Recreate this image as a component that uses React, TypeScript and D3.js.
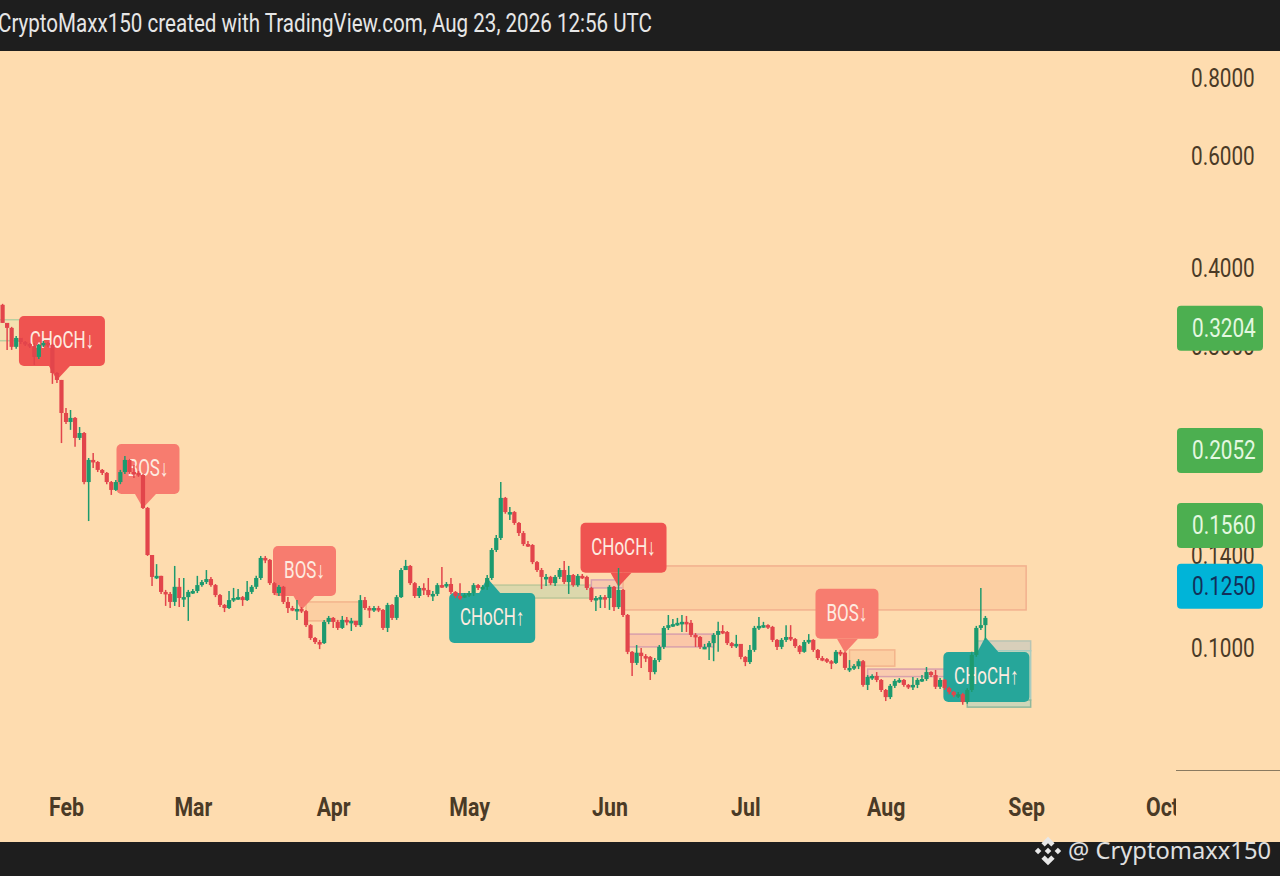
import * as d3 from "d3";
import React from "react";

const width = 1280;
const height = 876;

const firstOpen = 0.3497;
// daily closes from Jan 18
const closes = [
  0.3274, 0.3215, 0.3, 0.3099, 0.3054, 0.3032, 0.301, 0.2892, 0.3021, 0.3043, 0.3021, 0.2727, 0.2659, 0.2357, 0.2281,
  0.2315, 0.2152, 0.2191, 0.1832, 0.1986, 0.1971, 0.1915, 0.1894, 0.1832, 0.178, 0.1832, 0.19, 0.1986, 0.19, 0.1894,
  0.188, 0.1667, 0.1404, 0.1296, 0.1301, 0.1227, 0.1218, 0.1183, 0.125, 0.12, 0.1204, 0.1227, 0.1231, 0.1258, 0.1272,
  0.1286, 0.1258, 0.1213, 0.117, 0.1157, 0.1191, 0.12, 0.1204, 0.1191, 0.1227, 0.125, 0.1291, 0.1389, 0.1379, 0.1267,
  0.1222, 0.125, 0.1183, 0.1157, 0.1153, 0.1153, 0.1144, 0.1087, 0.1037, 0.1022, 0.1018, 0.11, 0.1116, 0.11, 0.1076,
  0.1108, 0.1104, 0.1104, 0.1087, 0.1191, 0.1157, 0.1153, 0.1157, 0.1149, 0.1076, 0.117, 0.1116, 0.1204, 0.1329, 0.1349,
  0.1267, 0.1209, 0.1245, 0.1236, 0.1213, 0.1218, 0.1258, 0.1254, 0.1263, 0.1227, 0.1209, 0.1204, 0.1213, 0.1222, 0.1258,
  0.1245, 0.125, 0.1291, 0.143, 0.1494, 0.1729, 0.1642, 0.1642, 0.1578, 0.1521, 0.1461, 0.1456, 0.1368, 0.1329, 0.1296,
  0.1296, 0.1267, 0.1296, 0.1329, 0.1272, 0.1305, 0.1258, 0.1301, 0.1296, 0.1245, 0.1191, 0.12, 0.1204, 0.12, 0.125,
  0.1161, 0.1236, 0.1128, 0.0986, 0.0947, 0.0983, 0.0971, 0.0968, 0.0916, 0.0957, 0.1004, 0.1076, 0.1087, 0.1091, 0.1096,
  0.11, 0.1096, 0.1049, 0.1041, 0.1004, 0.1004, 0.1018, 0.1049, 0.1064, 0.106, 0.1018, 0.1007, 0.1015, 0.0968, 0.095,
  0.0993, 0.1076, 0.1084, 0.1087, 0.108, 0.103, 0.1004, 0.103, 0.1041, 0.1033, 0.1007, 0.0986, 0.1022, 0.103, 0.0993,
  0.0964, 0.096, 0.0953, 0.0947, 0.0986, 0.0983, 0.093, 0.093, 0.0936, 0.0953, 0.0874, 0.09, 0.0903, 0.089, 0.0858,
  0.0836, 0.0871, 0.0887, 0.089, 0.0874, 0.0868, 0.0874, 0.089, 0.0893, 0.0916, 0.0906, 0.0868, 0.089, 0.0864, 0.0852,
  0.0842, 0.0845, 0.0821, 0.0858, 0.0975, 0.1076, 0.1087, 0.1116,
];
const highs = [
  0.351, 0.3262, 0.3227, 0.3122, 0.3099, 0.3065, 0.3043, 0.3043, 0.3032, 0.3065, 0.3054, 0.3032, 0.2737, 0.2659, 0.24,
  0.2383, 0.2323, 0.2239, 0.2199, 0.2, 0.2037, 0.1978, 0.1922, 0.19, 0.1839, 0.1846, 0.1915, 0.2015, 0.1993, 0.195,
  0.1908, 0.1887, 0.1673, 0.1404, 0.1358, 0.1301, 0.1236, 0.1227, 0.1349, 0.1291, 0.1291, 0.1236, 0.124, 0.1301, 0.1282,
  0.1329, 0.1296, 0.1263, 0.1218, 0.1174, 0.1231, 0.1245, 0.124, 0.1209, 0.1277, 0.1258, 0.1301, 0.1399, 0.1399, 0.1384,
  0.1272, 0.1258, 0.1254, 0.1204, 0.1166, 0.1191, 0.1161, 0.1149, 0.1091, 0.1041, 0.103, 0.1108, 0.1124, 0.112, 0.1108,
  0.1124, 0.112, 0.1116, 0.11, 0.1213, 0.1204, 0.1166, 0.1166, 0.1166, 0.1153, 0.1179, 0.1174, 0.1213, 0.1339, 0.1379,
  0.1354, 0.1272, 0.1254, 0.1267, 0.1291, 0.1231, 0.1267, 0.1344, 0.1272, 0.1291, 0.1231, 0.1267, 0.1222, 0.1231, 0.1267,
  0.1263, 0.1258, 0.1305, 0.144, 0.151, 0.1832, 0.1735, 0.1673, 0.1648, 0.1584, 0.1532, 0.1478, 0.1461, 0.1374, 0.1339,
  0.131, 0.1301, 0.1305, 0.1339, 0.1374, 0.1349, 0.131, 0.131, 0.131, 0.1301, 0.125, 0.1209, 0.1213, 0.1213, 0.1258,
  0.1254, 0.1339, 0.124, 0.1132, 0.0989, 0.1011, 0.1, 0.0978, 0.0971, 0.0964, 0.1011, 0.1084, 0.1128, 0.1112, 0.1116,
  0.1128, 0.1124, 0.1108, 0.1056, 0.1045, 0.1015, 0.1026, 0.1056, 0.11, 0.1087, 0.1064, 0.1022, 0.1049, 0.1015, 0.0971,
  0.1011, 0.1084, 0.112, 0.11, 0.1091, 0.1084, 0.1033, 0.1037, 0.1087, 0.1087, 0.1037, 0.1011, 0.103, 0.1052, 0.1033,
  0.0996, 0.0971, 0.0964, 0.0957, 0.0993, 0.0993, 0.0986, 0.0957, 0.0943, 0.096, 0.0957, 0.0906, 0.0909, 0.0916, 0.0893,
  0.0861, 0.0877, 0.0893, 0.0896, 0.0893, 0.0877, 0.09, 0.0896, 0.0906, 0.0933, 0.0919, 0.0923, 0.0896, 0.0893, 0.0868,
  0.0855, 0.0852, 0.0849, 0.0864, 0.0986, 0.1084, 0.1245, 0.1124,
];
const lows = [
  0.3274, 0.2967, 0.2967, 0.2978, 0.3032, 0.301, 0.2988, 0.2809, 0.2871, 0.2999, 0.2999, 0.2621, 0.263, 0.2112, 0.2264,
  0.2216, 0.2083, 0.2136, 0.1818, 0.1589, 0.1929, 0.19, 0.188, 0.1818, 0.1748, 0.1773, 0.1818, 0.1887, 0.1887, 0.186,
  0.1867, 0.1661, 0.1399, 0.1254, 0.1286, 0.1218, 0.1166, 0.1157, 0.1166, 0.1161, 0.1161, 0.1104, 0.1218, 0.1222, 0.125,
  0.1263, 0.125, 0.1204, 0.1161, 0.114, 0.1153, 0.1183, 0.1191, 0.1166, 0.1187, 0.1218, 0.124, 0.1282, 0.1363, 0.1258,
  0.1213, 0.1209, 0.1174, 0.1136, 0.1144, 0.1108, 0.1136, 0.108, 0.103, 0.1015, 0.0996, 0.1015, 0.1091, 0.1076, 0.1068,
  0.1072, 0.1087, 0.1064, 0.108, 0.108, 0.1149, 0.1116, 0.114, 0.114, 0.1068, 0.106, 0.1108, 0.1108, 0.12, 0.1329,
  0.1258, 0.12, 0.12, 0.1213, 0.1204, 0.1187, 0.1209, 0.1245, 0.1245, 0.1218, 0.12, 0.1191, 0.12, 0.1204, 0.1209,
  0.1236, 0.1236, 0.1236, 0.1282, 0.142, 0.1483, 0.1632, 0.1595, 0.1567, 0.1505, 0.1451, 0.1446, 0.1358, 0.1319, 0.124,
  0.1254, 0.1258, 0.1254, 0.1286, 0.1263, 0.1218, 0.125, 0.125, 0.1286, 0.1236, 0.1183, 0.1144, 0.1157, 0.1157, 0.1149,
  0.1144, 0.1153, 0.112, 0.0978, 0.0903, 0.094, 0.093, 0.095, 0.089, 0.0909, 0.095, 0.0996, 0.1068, 0.108, 0.1084,
  0.106, 0.106, 0.1041, 0.1004, 0.0996, 0.0996, 0.0957, 0.0953, 0.0986, 0.1052, 0.1011, 0.1, 0.1, 0.096, 0.0936,
  0.0943, 0.0986, 0.1068, 0.1076, 0.1072, 0.1022, 0.0993, 0.0996, 0.1022, 0.1026, 0.1, 0.0978, 0.0983, 0.1015, 0.0986,
  0.0957, 0.0953, 0.0947, 0.0926, 0.0943, 0.0971, 0.0923, 0.0916, 0.0923, 0.0926, 0.0868, 0.0858, 0.089, 0.0883, 0.0852,
  0.0824, 0.083, 0.0864, 0.088, 0.0868, 0.0861, 0.0858, 0.0864, 0.0883, 0.0887, 0.09, 0.0861, 0.0861, 0.0858, 0.0845,
  0.0836, 0.0833, 0.0813, 0.0816, 0.0852, 0.0968, 0.1068, 0.103,
];

const priceTicks = [0.8, 0.6, 0.4, 0.3, 0.14, 0.1];
const tagPrices = [0.3204, 0.2052, 0.156, 0.125];
const tagFills = ["#4caf50", "#4caf50", "#4caf50", "#00b4d8"];
const tagInk = ["#e4f8e0", "#e4f8e0", "#e4f8e0", "#12305a"];

// structure labels: date of the tail tip and its price
const labelTexts = ["CHoCH↓", "BOS↓", "BOS↓", "CHoCH↑", "CHoCH↓", "BOS↓", "CHoCH↑"];
const labelDates = ["2026-01-30", "2026-02-18", "2026-03-25", "2026-05-05", "2026-06-03", "2026-07-23", "2026-08-23"];
const labelPrices = [0.2659, 0.1667, 0.1149, 0.1291, 0.125, 0.0983, 0.1041];
const labelFills = ["#ef5350", "#f77c6f", "#f77c6f", "#26a69a", "#ef5350", "#f77c6f", "#26a69a"];
const labelNudges = [5, 5, 3, 5, 5, 2, 1];

// order blocks
const zoneStarts = ["2026-01-10", "2026-03-26", "2026-05-05", "2026-05-28", "2026-06-04", "2026-06-05", "2026-07-24", "2026-07-28", "2026-08-21", "2026-08-21", "2026-08-19"];
const zoneEnds = ["2026-01-22", "2026-04-07", "2026-05-28", "2026-06-12", "2026-09-01", "2026-06-24", "2026-08-03", "2026-08-18", "2026-09-02", "2026-09-02", "2026-09-02"];
const zoneTops = [0.3312, 0.1183, 0.1258, 0.1282, 0.1349, 0.1052, 0.0993, 0.0926, 0.1026, 0.099, 0.0827];
const zoneBottoms = [0.3068, 0.1104, 0.12, 0.1245, 0.1149, 0.1004, 0.0936, 0.0901, 0.099, 0.0827, 0.0806];
const zoneFills = ["#f5e0b0", "#fccfa2", "#dcd8ac", "#f8c9ad", "#fccfa2", "#fbc7a8", "#fccfa2", "#f9cbb0", "#d8cfba", "#cfd6b8", "#cfd6b8"];
const zoneStrokes = ["#b9cfa0", "#f3b48c", "#bcc79a", "#d6a0ae", "#f2b08e", "#d8a0ac", "#f3b48c", "#d8a0ac", "#b8c4b4", "#a8ccc0", "#8fb89c"];

const background = "#fedcaf";
const bandColor = "#1e1e1e";
const axisInk = "#4a3a26";
const upColor = "#1f9a6e";
const downColor = "#e2444c";

const utc = (s: string) => new Date(s + "T00:00:00Z");

const x = d3.scaleUtc().domain([utc("2026-02-01"), utc("2026-10-01")]).range([66, 1162]);
const y = d3.scaleLog().domain([0.1, 0.8]).range([648, 78]);

const candles = closes.map((close, i) => ({
  date: d3.utcDay.offset(utc("2026-01-18"), i),
  open: i === 0 ? firstOpen : closes[i - 1],
  close,
  high: highs[i],
  low: lows[i],
}));

function Label({ i }: { i: number }) {
  const tipX = x(utc(labelDates[i]));
  const tipY = y(labelPrices[i]);
  const up = labelTexts[i].endsWith("↑");
  const w = labelTexts[i].startsWith("BOS") ? 63 : 86;
  const cx = tipX + labelNudges[i];
  const baseY = up ? tipY + 15 : tipY - 14;
  const boxY = up ? baseY : baseY - 50;
  const tail = d3.line()([
    [tipX - 8, baseY],
    [tipX, tipY],
    [tipX + 13, baseY],
  ]);
  return (
    <g>
      <rect x={cx - w / 2} y={boxY} width={w} height={50} rx={5} fill={labelFills[i]} />
      <path d={tail + "Z"} fill={labelFills[i]} />
      <text
        transform={`translate(${cx},${boxY + 32}) scale(0.74,1)`}
        textAnchor="middle"
        fontFamily="Roboto"
        fontSize={23}
        fill="#fdebe0"
      >
        {labelTexts[i]}
      </text>
    </g>
  );
}

export default function App() {
  const xAxisRef = React.useRef<SVGGElement>(null);
  const yAxisRef = React.useRef<SVGGElement>(null);

  React.useEffect(() => {
    document.body.style.margin = "0";
    const xAxis = d3
      .axisBottom(x)
      .tickValues(d3.utcMonth.range(utc("2026-02-01"), utc("2026-10-02")))
      .tickFormat((d) => d3.utcFormat("%b")(d as Date))
      .tickSize(0)
      .tickPadding(0);
    d3.select(xAxisRef.current!)
      .call(xAxis)
      .call((g) => g.select(".domain").remove())
      .call((g) =>
        g
          .selectAll("text")
          .attr("font-family", "Roboto")
          .attr("font-size", 26)
          .attr("font-weight", 700)
          .attr("fill", axisInk)
          .attr("transform", "scale(0.82,1)"),
      );
    const yAxis = d3
      .axisRight(y)
      .tickValues(priceTicks)
      .tickFormat((d) => (d as number).toFixed(4))
      .tickSize(0)
      .tickPadding(0);
    d3.select(yAxisRef.current!)
      .call(yAxis)
      .call((g) => g.select(".domain").remove())
      .call((g) =>
        g
          .selectAll("text")
          .attr("font-family", "Roboto")
          .attr("font-size", 25)
          .attr("fill", axisInk)
          .attr("transform", "scale(0.83,1)"),
      );
  }, []);

  return (
    <svg width={width} height={height} style={{ position: "absolute", left: 0, top: 0, display: "block" }}>
      <defs>
        <clipPath id="xClip">
          <rect x={0} y={770} width={1176} height={72} />
        </clipPath>
        <filter id="soft" x="-5%" y="-5%" width="110%" height="110%">
          <feGaussianBlur stdDeviation={0.4} />
        </filter>
      </defs>
      <rect width={width} height={height} fill={background} />

      {zoneStarts.map((s, i) => (
        <rect
          key={i}
          x={x(utc(s))}
          y={y(zoneTops[i])}
          width={x(utc(zoneEnds[i])) - x(utc(s))}
          height={y(zoneBottoms[i]) - y(zoneTops[i])}
          fill={zoneFills[i]}
          stroke={zoneStrokes[i]}
          strokeWidth={1.5}
        />
      ))}

      {labelTexts.map((_, i) => (
        <Label key={i} i={i} />
      ))}

      <g filter="url(#soft)">
        {candles.map((c, i) => {
          const color = c.close >= c.open ? upColor : downColor;
          const cx = x(c.date);
          const top = y(Math.max(c.open, c.close));
          const bottom = y(Math.min(c.open, c.close));
          return (
            <g key={i}>
              <line x1={cx} x2={cx} y1={y(c.high)} y2={y(c.low)} stroke={color} strokeWidth={1.5} />
              <rect x={cx - 2.1} y={top} width={4.2} height={Math.max(bottom - top, 2.5)} fill={color} />
            </g>
          );
        })}
      </g>

      <g ref={yAxisRef} transform="translate(1191,0)" />
      <g clipPath="url(#xClip)">
        <g ref={xAxisRef} transform="translate(0,798)" />
      </g>
      <line x1={1176} x2={1280} y1={770.5} y2={770.5} stroke="#8a7a60" strokeWidth={1.2} />

      {tagPrices.map((p, i) => (
        <g key={p}>
          <rect x={1177} y={y(p) - 23} width={86} height={45} rx={4} fill={tagFills[i]} />
          <text
            transform={`translate(1192,${y(p) + 8}) scale(0.83,1)`}
            fontFamily="Roboto"
            fontSize={25}
            fill={tagInk[i]}
          >
            {p.toFixed(4)}
          </text>
        </g>
      ))}

      <rect width={width} height={51} fill={bandColor} />
      <text
        x={-2}
        y={32}
        fontFamily="Roboto"
        fontSize={25}
        fill="#e6e6e6"
        textLength={654}
        lengthAdjust="spacingAndGlyphs"
      >
        CryptoMaxx150 created with TradingView.com, Aug 23, 2026 12:56 UTC
      </text>

      <rect y={842} width={width} height={34} fill={bandColor} />
      <g fill="#e8e8e8" transform="translate(1048,851) scale(1.1)">
        <path d="M0 -13 L6 -7 L3 -4 L0 -7 L-3 -4 L-6 -7Z" />
        <path d="M0 13 L6 7 L3 4 L0 7 L-3 4 L-6 7Z" />
        <path d="M0 -3 L3 0 L0 3 L-3 0Z" />
        <path d="M-9 -3 L-6 0 L-9 3 L-12 0Z" />
        <path d="M9 -3 L12 0 L9 3 L6 0Z" />
      </g>
      <text
        x={1068}
        y={859}
        fontFamily="Noto Sans"
        fontSize={24}
        fill="#e0e0e0"
        textLength={203}
        lengthAdjust="spacingAndGlyphs"
      >
        @ Cryptomaxx150
      </text>
    </svg>
  );
}
